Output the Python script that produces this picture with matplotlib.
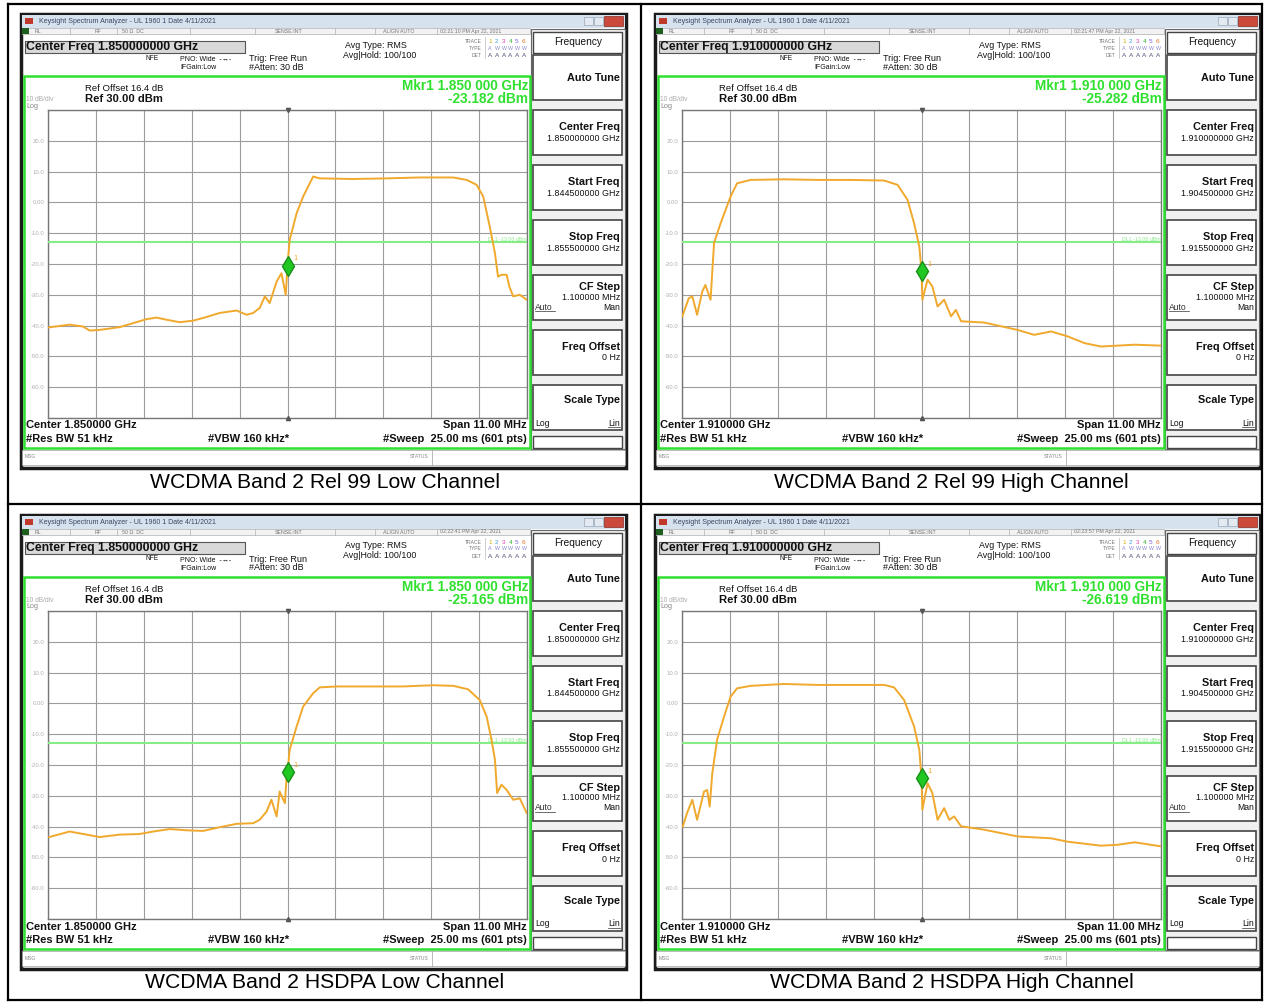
import numpy as np
import matplotlib
matplotlib.use("Agg")
import matplotlib.pyplot as plt
from matplotlib.patches import Rectangle

plt.rcParams['font.family'] = ['Liberation Sans', 'DejaVu Sans']

W, H = 1270, 1002

captions = ["WCDMA Band 2 Rel 99 Low Channel", "WCDMA Band 2 Rel 99 High Channel",
            "WCDMA Band 2 HSDPA Low Channel", "WCDMA Band 2 HSDPA High Channel"]
center_ghz = [1.850, 1.910, 1.850, 1.910]
span_mhz = 11.0
ref_dbm = 30.0
db_per_div = 10.0
display_line_dbm = -13.0
mkr_readout = ["-23.182 dBm", "-25.282 dBm", "-25.165 dBm", "-26.619 dBm"]
mkr_level = [-20.5, -22.4, -22.4, -24.3]   # where the diamond sits on screen
clock = ["02:21:10 PM Apr 22, 2021", "02:21:47 PM Apr 22, 2021",
         "02:22:41 PM Apr 22, 2021", "02:23:57 PM Apr 22, 2021"]

# trace points: offset from center (MHz), level (dBm)
rel99_low_off = [-5.50, -5.01, -4.70, -4.55, -4.32, -3.86, -3.55, -3.24, -3.01, -2.78, -2.48, -2.17,
                 -1.86, -1.56, -1.17, -0.94, -0.79, -0.64, -0.52, -0.41, -0.25, -0.14, -0.04, 0.0,
                 0.05, 0.21, 0.36, 0.59, 0.74, 1.51, 2.28, 3.04, 3.81, 4.12, 4.35, 4.50, 4.65, 4.77,
                 4.84, 4.92, 5.04, 5.10, 5.19, 5.34, 5.50]
rel99_low_dbm = [-40.6, -39.7, -40.3, -41.6, -41.4, -40.5, -39.2, -37.9, -37.4, -38.1, -38.9, -38.4,
                 -37.2, -35.9, -35.1, -36.5, -35.9, -34.3, -30.5, -32.7, -25.7, -23.0, -30.0, -20.5,
                 -12.2, -3.5, 1.9, 8.4, 7.8, 7.6, 7.8, 8.1, 8.1, 7.3, 5.7, 1.9, -7.8, -16.5,
                 -24.1, -23.5, -23.5, -27.3, -30.5, -30.0, -31.6]

rel99_high_off = [-5.50, -5.35, -5.27, -5.16, -5.04, -4.97, -4.85, -4.77, -4.62, -4.39, -4.24, -3.93,
                  -3.16, -2.39, -1.63, -0.86, -0.55, -0.32, -0.17, -0.05, 0.0, 0.02, 0.14, 0.25,
                  0.37, 0.52, 0.68, 0.79, 0.91, 1.44, 2.21, 2.59, 2.98, 3.36, 3.75, 4.13, 4.51,
                  4.90, 5.50]
rel99_high_dbm = [-37.0, -31.1, -30.5, -36.5, -28.9, -26.8, -31.6, -13.2, -6.8, 1.9, 6.2, 7.3,
                  7.5, 7.3, 7.3, 7.1, 5.7, 0.8, -6.8, -14.3, -22.4, -31.6, -25.1, -27.3,
                  -33.8, -31.6, -37.0, -34.9, -38.6, -39.0, -41.4, -43.0, -41.9, -43.5, -45.7, -46.8, -46.5,
                  -46.2, -46.5]

hsdpa_low_off = [-5.48, -5.01, -4.62, -4.32, -3.86, -3.40, -3.09, -2.71, -2.32, -1.94, -1.56, -1.17,
                 -0.79, -0.64, -0.48, -0.37, -0.25, -0.18, -0.06, -0.02, 0.0, 0.05, 0.21, 0.36,
                 0.59, 0.74, 1.13, 1.89, 2.66, 3.35, 3.81, 4.15, 4.42, 4.58, 4.69, 4.77, 4.82,
                 4.92, 5.04, 5.19, 5.34, 5.50]
hsdpa_low_dbm = [-43.4, -41.6, -42.6, -43.4, -42.6, -42.4, -41.6, -40.8, -41.2, -41.4, -40.2, -39.1,
                 -38.9, -37.8, -35.1, -31.3, -36.7, -28.6, -32.4, -23.7, -22.4, -15.1, -7.5, -1.0,
                 3.3, 5.2, 5.5, 5.5, 5.5, 5.9, 5.7, 4.6, 1.1, -4.3, -11.8, -18.3, -29.1,
                 -26.4, -28.1, -31.3, -30.8, -35.6]

hsdpa_high_off = [-5.49, -5.39, -5.27, -5.16, -5.00, -4.93, -4.87, -4.81, -4.70, -4.54, -4.39, -4.24,
                  -3.93, -3.16, -2.39, -1.63, -0.86, -0.63, -0.40, -0.17, -0.05, 0.0, 0.02, 0.14,
                  0.25, 0.37, 0.52, 0.64, 0.75, 0.91, 1.44, 2.21, 2.98, 3.36, 4.13, 4.51, 4.90, 5.50]
hsdpa_high_dbm = [-40.0, -35.6, -31.3, -37.8, -28.6, -28.1, -33.5, -22.6, -11.8, -4.3, 2.2, 4.9,
                  5.7, 6.3, 6.0, 6.0, 6.0, 5.2, 1.1, -7.5, -15.1, -24.3, -34.5, -25.9,
                  -29.1, -37.8, -34.0, -37.8, -36.7, -39.9, -41.0, -43.2, -43.8, -44.9, -46.2, -45.9, -45.1, -46.4]

traces = [(rel99_low_off, rel99_low_dbm), (rel99_high_off, rel99_high_dbm),
          (hsdpa_low_off, hsdpa_low_dbm), (hsdpa_high_off, hsdpa_high_dbm)]
offsets = [(0, 0), (634, 0), (0, 501), (634, 501)]

softkeys = ["Auto Tune", "Center Freq", "Start Freq", "Stop Freq", "CF Step", "Freq Offset", "Scale Type"]

GREEN = '#2fe02f'
TRACE = '#f0a92c'

fig = plt.figure(figsize=(W / 100, H / 100), dpi=100)
bg = fig.add_axes([0, 0, 1, 1])
bg.set_xlim(0, W)
bg.set_ylim(H, 0)
bg.axis('off')


def box(x, y, w, h, fc='white', ec='#444444', lw=1.0, z=1):
    bg.add_patch(Rectangle((x, y), w, h, facecolor=fc, edgecolor=ec, lw=lw, zorder=z))


def txt(x, y, s, size=5, ha='left', color='#111111', weight='normal', z=5):
    bg.text(x, y, s, fontsize=size, ha=ha, va='center', color=color, weight=weight, zorder=z)


for i in range(4):
    dx, dy = offsets[i]
    cf = center_ghz[i]
    start = cf - span_mhz / 2000
    stop = cf + span_mhz / 2000

    # screen frame + title bar
    box(21 + dx, 14 + dy, 605, 454, fc='white', ec='#1a1a1a', lw=2.5)
    box(22 + dx, 15 + dy, 603, 13, fc='#d6e2ee', ec='none', z=2)
    box(25 + dx, 18 + dy, 8, 6, fc='#c0392b', ec='none', z=3)
    txt(39 + dx, 21.5 + dy, "Keysight Spectrum Analyzer - UL 1960 1 Date 4/11/2021", 5.0, color='#3a4660')
    box(584 + dx, 17 + dy, 9, 8, fc='#e4eaf2', ec='#9aa6b6', lw=0.5, z=3)
    box(594 + dx, 17 + dy, 9, 8, fc='#e4eaf2', ec='#9aa6b6', lw=0.5, z=3)
    box(604 + dx, 16 + dy, 19, 10, fc='#cc4a3c', ec='#8a2a20', lw=0.5, z=3)

    # status row
    box(22 + dx, 28 + dy, 508, 6, fc='#f2f2f2', ec='#b0b0b0', lw=0.5, z=2)
    box(22 + dx, 28 + dy, 7, 6, fc='#1e5e1e', ec='none', z=3)
    for sx in [70, 117, 190, 255, 335, 375, 437]:
        bg.plot([sx + dx, sx + dx], [28 + dy, 34 + dy], color='#b0b0b0', lw=0.5, zorder=3)
    for sx, s in [(35, "RL"), (95, "RF"), (122, "50 Ω  DC"), (275, "SENSE:INT"),
                  (383, "ALIGN AUTO"), (440, clock[i])]:
        txt(sx + dx, 31 + dy, s, 3.8, color='#777777')

    # header
    box(25 + dx, 41 + dy, 220, 12, fc='#d9d9d9', ec='#555555', lw=0.8, z=2)
    txt(26 + dx, 47 + dy, "Center Freq %.9f GHz" % cf, 8.8, weight='bold')
    txt(146 + dx, 58 + dy, "NFE", 4.8)
    txt(180 + dx, 59 + dy, "PNO: Wide  -↔-", 5.0)
    txt(180 + dx, 67 + dy, "IFGain:Low", 5.0)
    txt(249 + dx, 58 + dy, "Trig: Free Run", 6.5)
    txt(249 + dx, 67 + dy, "#Atten: 30 dB", 6.5)
    txt(345 + dx, 45 + dy, "Avg Type: RMS", 6.4)
    txt(343 + dx, 55 + dy, "Avg|Hold: 100/100", 6.4)
    txt(482 + dx, 41 + dy, "TRACE", 3.6, ha='right', color='#777777')
    txt(482 + dx, 48 + dy, "TYPE", 3.6, ha='right', color='#777777')
    txt(482 + dx, 55 + dy, "DET", 3.6, ha='right', color='#777777')
    bg.plot([485 + dx, 485 + dx], [37 + dy, 58 + dy], color='#bbbbbb', lw=0.5, zorder=3)
    for k, c in enumerate(['#d4b000', '#3fa0e0', '#e040b0', '#30b030', '#7a60e0', '#e07020']):
        txt(488 + dx + 6.8 * k, 41 + dy, str(k + 1), 4.6, color=c)
        txt(488 + dx + 6.8 * k, 48 + dy, "A" if k == 0 else "W", 3.8, color='#8888cc')
        txt(488 + dx + 6.8 * k, 55 + dy, "A", 4.6, color='#555577')

    # green measurement frame
    box(24 + dx, 76 + dy, 506, 372, fc='none', ec=GREEN, lw=1.8, z=4)
    txt(85 + dx, 88 + dy, "Ref Offset 16.4 dB", 6.8)
    txt(85 + dx, 99 + dy, "Ref 30.00 dBm", 8.1, weight='bold')
    txt(26 + dx, 99.5 + dy, "10 dB/div", 4.8, color='#aaaaaa')
    txt(26 + dx, 106 + dy, "Log", 5.2, color='#888888')
    txt(528 + dx, 86 + dy, "Mkr1 %.3f 000 GHz" % cf, 9.8, ha='right', color=GREEN, weight='bold')
    txt(528 + dx, 98.5 + dy, mkr_readout[i], 9.8, ha='right', color=GREEN, weight='bold')
    txt(26 + dx, 425.5 + dy, "Center %.6f GHz" % cf, 8.0, weight='bold')
    txt(26 + dx, 439 + dy, "#Res BW 51 kHz", 8.0, weight='bold')
    txt(208 + dx, 439 + dy, "#VBW 160 kHz*", 8.0, weight='bold')
    txt(527 + dx, 425.5 + dy, "Span 11.00 MHz", 8.0, ha='right', weight='bold')
    txt(527 + dx, 439 + dy, "#Sweep  25.00 ms (601 pts)", 8.0, ha='right', weight='bold')

    # bottom message row
    box(22 + dx, 450 + dy, 603, 15, fc='white', ec='#a0a0a0', lw=0.5, z=2)
    bg.plot([432 + dx, 432 + dx], [450 + dy, 465 + dy], color='#a0a0a0', lw=0.5, zorder=3)
    txt(25 + dx, 457 + dy, "MSG", 3.6, color='#888888')
    txt(419 + dx, 457 + dy, "STATUS", 3.6, ha='center', color='#888888')

    # soft key column
    box(531 + dx, 29 + dy, 94, 420, fc='#f0f0f0', ec='#666666', lw=0.8, z=2)
    box(533 + dx, 32 + dy, 89, 21, fc='white', ec='#444444', lw=1.0, z=3)
    txt(578 + dx, 42 + dy, "Frequency", 7.3, ha='center')
    vals = [None, "%.9f GHz" % cf, "%.9f GHz" % start, "%.9f GHz" % stop,
            "1.100000 MHz", "0 Hz", None]
    for k, lab in enumerate(softkeys):
        y0 = 55 + 55 * k + dy
        box(533 + dx, y0, 89, 45, fc='white', ec='#444444', lw=1.2, z=3)
        if lab == "Auto Tune":
            txt(620 + dx, y0 + 23, lab, 7.8, ha='right', weight='bold')
        elif lab == "CF Step":
            txt(620 + dx, y0 + 12, lab, 7.8, ha='right', weight='bold')
            txt(620 + dx, y0 + 22, vals[k], 6.4, ha='right')
            txt(535 + dx, y0 + 32, "Auto", 6.2, color='#333333')
            bg.plot([535 + dx, 555 + dx], [y0 + 36, y0 + 36], color='#333333', lw=0.5, zorder=5)
            txt(620 + dx, y0 + 32, "Man", 6.2, ha='right')
        elif lab == "Scale Type":
            txt(620 + dx, y0 + 15, lab, 7.8, ha='right', weight='bold')
            txt(535 + dx, y0 + 38, "Log", 6.2)
            txt(620 + dx, y0 + 38, "Lin", 6.2, ha='right')
            bg.plot([608 + dx, 620 + dx], [y0 + 42, y0 + 42], color='#333333', lw=0.5, zorder=5)
        else:
            txt(620 + dx, y0 + 17, lab, 7.8, ha='right', weight='bold')
            txt(620 + dx, y0 + 28, vals[k], 6.4, ha='right')
    box(533 + dx, 436 + dy, 89, 12, fc='white', ec='#444444', lw=1.0, z=3)

    # graticule with the trace
    gx0, gx1, gy0, gy1 = 48.3 + dx, 526.7 + dx, 110 + dy, 418 + dy
    ax = fig.add_axes([gx0 / W, 1 - gy1 / H, (gx1 - gx0) / W, (gy1 - gy0) / H])
    ax.set_xlim(start, stop)
    ax.set_ylim(ref_dbm - 10 * db_per_div, ref_dbm)
    ax.set_xticks(np.linspace(start, stop, 11))
    yt = np.arange(ref_dbm - 10 * db_per_div, ref_dbm + 1, db_per_div)
    ax.set_yticks(yt)
    ax.set_yticklabels(["" if (v == ref_dbm or v == yt[0]) else ("0.00" if v == 0 else "%.1f" % v)
                        for v in yt])
    ax.tick_params(axis='y', length=0, pad=3, labelsize=4.3, labelcolor='#b0b0b0')
    ax.tick_params(axis='x', length=0, labelbottom=False)
    ax.grid(True, color='#9c9c9c', lw=0.8)
    for sp in ax.spines.values():
        sp.set_color('#777777')
        sp.set_linewidth(1.0)
    ax.set_facecolor('white')

    ax.axhline(display_line_dbm, color='#86ec86', lw=1.5, zorder=3)
    ax.text(stop, display_line_dbm + 0.3, "DL1 -13.00 dBm", fontsize=3.8, color='#86ec86',
            ha='right', va='bottom')
    off, lev = traces[i]
    ax.plot(cf + np.array(off) / 1000, lev, color=TRACE, lw=1.4, zorder=4)
    ax.plot([cf], [mkr_level[i]], marker='d', ms=10, color='#22c822', mec='#1a8f1a', zorder=6)
    ax.annotate("1", (cf, mkr_level[i]), xytext=(4, 4), textcoords='offset points',
                fontsize=5.5, color=TRACE, zorder=6)
    ax.plot([cf], [ref_dbm], marker='v', ms=3, color='#555555', clip_on=False, zorder=6)
    ax.plot([cf], [ref_dbm - 10 * db_per_div], marker='^', ms=3, color='#555555', clip_on=False, zorder=6)

# table rules and captions
for xs, ys in [([8, 1262], [4, 4]), ([8, 1262], [1000, 1000]), ([8, 8], [4, 1000]),
               ([1262, 1262], [4, 1000]), ([641, 641], [4, 1000]), ([8, 1262], [504, 504])]:
    bg.plot(xs, ys, color='black', lw=1.6, zorder=6, solid_capstyle='projecting')
for i in range(4):
    cx = 324.5 if i % 2 == 0 else 951.5
    cy = 482 if i < 2 else 982
    bg.text(cx, cy, captions[i], fontsize=15.2, ha='center', va='center', color='black')

fig.savefig("out.png", dpi=100)
